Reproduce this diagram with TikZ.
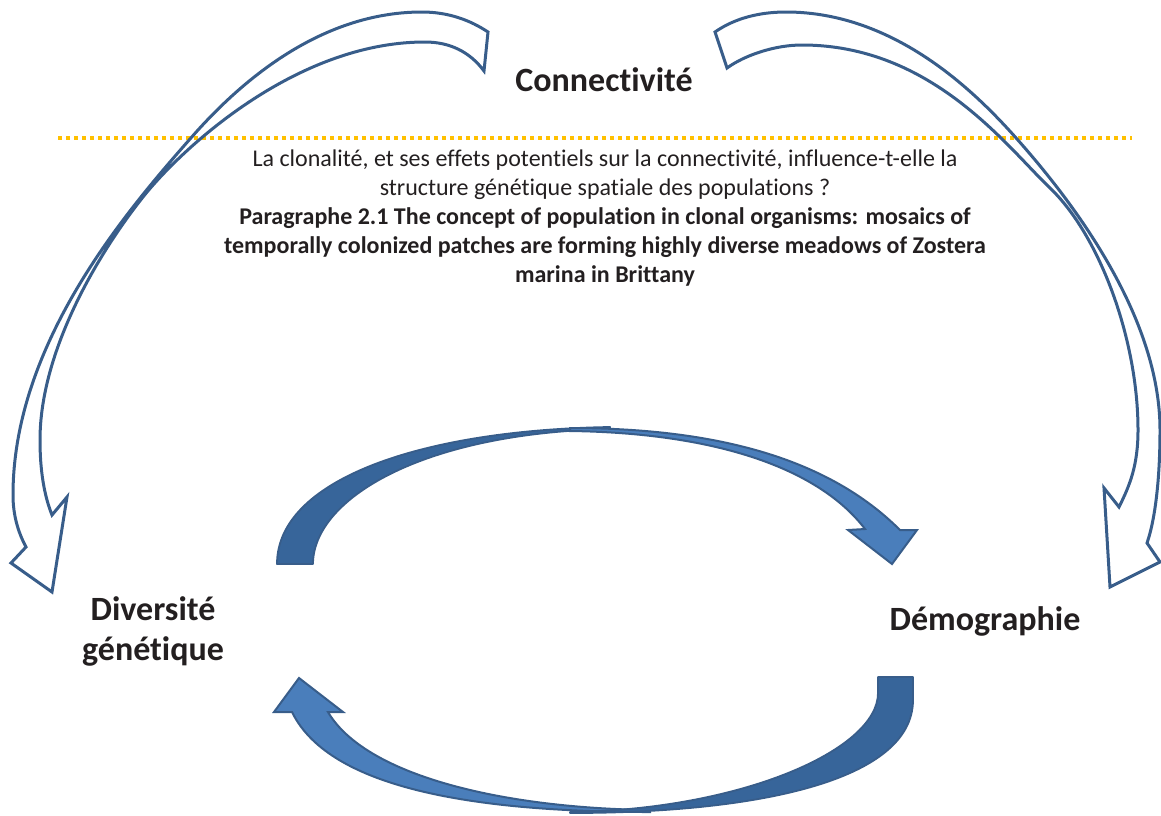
\documentclass[tikz,border=0pt]{standalone}
\usepackage{fontspec}
\setmainfont{Carlito}[Ligatures=NoCommon]
\definecolor{outl}{HTML}{385D8A}
\definecolor{lightb}{HTML}{4A7EBB}
\definecolor{darkb}{HTML}{37659A}
\definecolor{gold}{HTML}{FFC000}
\definecolor{txt}{HTML}{231F20}
\tikzset{
  outlinearrow/.style={draw=outl, line width=3pt, line join=miter},
  backface/.style={fill=darkb, draw=outl, line width=1.8pt, line join=round},
  frontface/.style={fill=lightb, draw=outl, line width=2pt, line join=miter},
  biglabel/.style={font=\fontsize{34}{40}\selectfont\bfseries, text=txt, inner sep=0pt, align=center},
  question/.style={font=\fontsize{24}{28.8}\selectfont, text=txt, inner sep=0pt, align=center},
  goldline/.style={draw=gold, line width=3.5pt, dash pattern=on 4pt off 4pt}
}
\begin{document}
\begin{tikzpicture}[x=1pt,y=-1pt]
\useasboundingbox (0,0) rectangle (1161,815);
% dotted separator
\coordinate (dl) at (58,138);
\coordinate (dr) at (1132,138);
\draw[goldline] (dl) -- (dr);
% texts
\node[biglabel, anchor=base] (conn) at (604,91) {Connectivité};
\node[question, anchor=base] (q) at (605,282) {La clonalité, et ses effets potentiels sur la connectivité, influence-t-elle la\\
structure génétique spatiale des populations ?\\
\textbf{Paragraphe 2.1 The concept of population in clonal organisms: mosaics of}\\
\textbf{temporally colonized patches are forming highly diverse meadows of Zostera}\\
\textbf{marina in Brittany}};
\node[biglabel, anchor=base] (div) at (153,660) {Diversité\\génétique};
\node[biglabel, anchor=base] (demo) at (985,630) {Démographie};
% left outline arrow (Connectivite -> Diversite genetique)
\draw[outlinearrow] (488,32) .. controls (470,20) and (448,12) .. (422,12)
  .. controls (312,12) and (229.5,93.8) .. (190,139)
  .. controls (124,214) and (13,345) .. (13,495)
  .. controls (13,515) and (18,532) .. (26,547)
  -- (11,563) -- (52,592) -- (67,497) -- (52,515)
  .. controls (44,495) and (40,470) .. (40,440)
  .. controls (40,350) and (99.5,251.8) .. (143,197)
  .. controls (180.3,150) and (295,42) .. (425,42)
  .. controls (450,42) and (470,52) .. (484,71)
  -- cycle;
% right outline arrow (Connectivite -> Demographie)
\draw[outlinearrow] (715,32) .. controls (735,18) and (760,12) .. (786,12)
  .. controls (896,12) and (977,94) .. (1017,139)
  .. controls (1063,191) and (1160,310) .. (1160,430)
  .. controls (1160,480) and (1155,520) .. (1147,543)
  -- (1160,562) -- (1110,587) -- (1104,488) -- (1119,507)
  .. controls (1130,485) and (1138,465) .. (1138,430)
  .. controls (1138,340) and (1100,236) .. (1050,188)
  .. controls (1007,147) and (932,45) .. (802,45)
  .. controls (775,45) and (745,55) .. (727,68)
  -- cycle;
% upper blue arrow (Diversite -> Demographie)
\draw[backface] (277,564) .. controls (277,480) and (420,430) .. (610,427)
  -- (610,429) .. controls (420,433) and (313,500) .. (313,564) -- cycle;
\draw[frontface] (570,428) .. controls (720,428) and (830,460) .. (900,530)
  -- (917,530) -- (892,564) -- (848,530) -- (865,529)
  .. controls (820,470) and (720,433) .. (570,431) -- cycle;
% lower blue arrow (Demographie -> Diversite)
\draw[frontface] (650,812) .. controls (480,812) and (330,790) .. (292,712)
  -- (274,712) -- (299,678) -- (343,712) -- (328,712)
  .. controls (365,775) and (500,808) .. (650,810) -- cycle;
\draw[backface] (913,677) -- (913,700) .. controls (913,780) and (760,813) .. (570,813)
  -- (570,812) .. controls (740,810) and (878,750) .. (878,693) -- (878,677) -- cycle;
\end{tikzpicture}
\end{document}
